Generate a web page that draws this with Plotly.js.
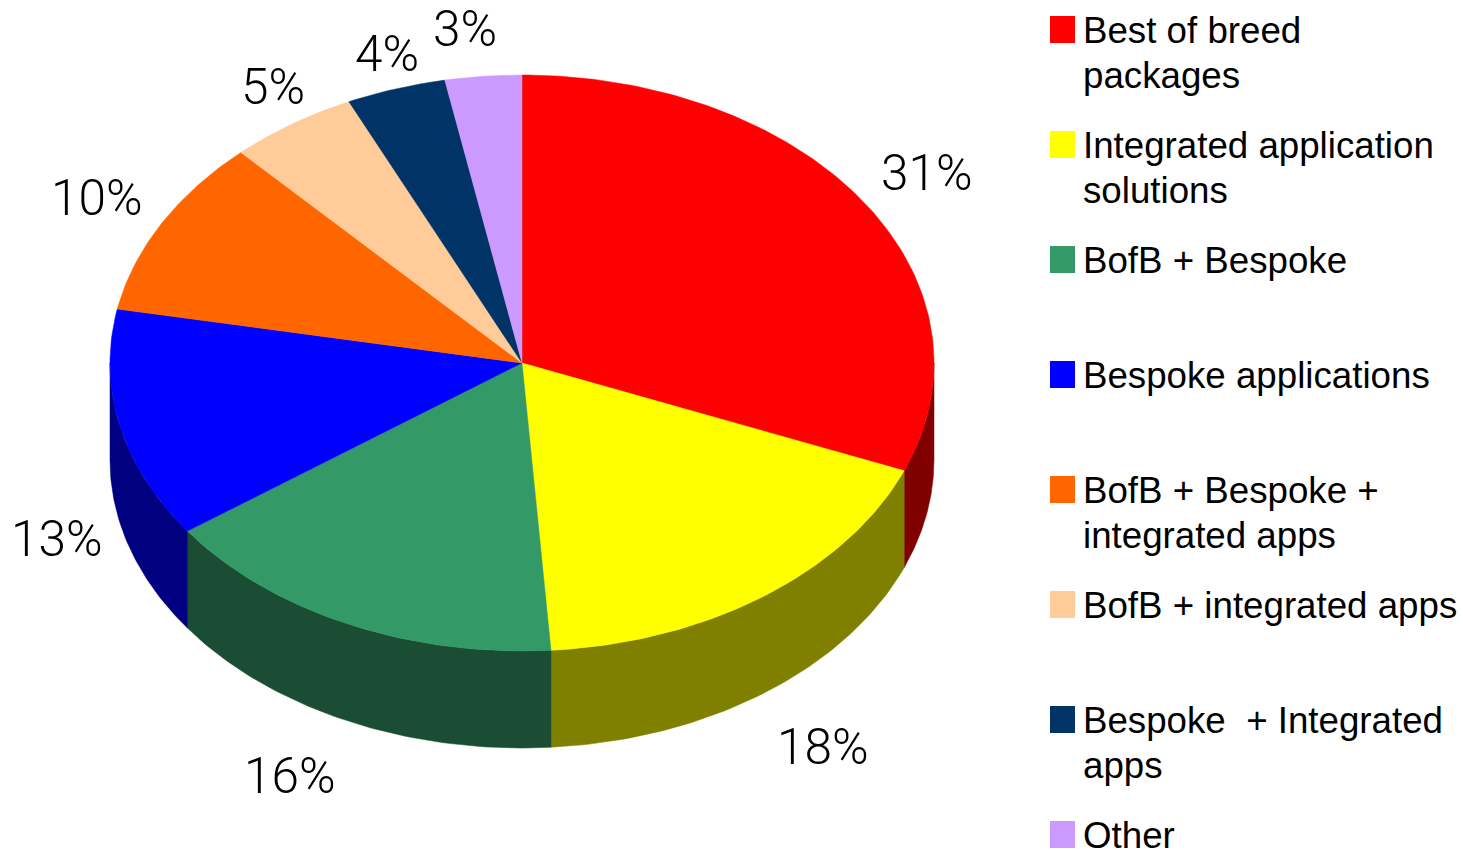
<!DOCTYPE html>
<html>
<head>
<meta charset="utf-8">
<script src="https://cdn.plot.ly/plotly-3.0.1.min.js"></script>
<style>html,body{margin:0;padding:0;background:#fff;overflow:hidden}#chart{width:1463px;height:851px}</style>
</head>
<body>
<div id="chart"></div>
<script>
// Data
var categories = ["Best of breed<br>packages", "Integrated application<br>solutions", "BofB + Bespoke", "Bespoke applications", "BofB + Bespoke +<br>integrated apps", "BofB + integrated apps", "Bespoke  + Integrated<br>apps", "Other"];
var values = [31.1, 17.78, 16.2, 12.92, 10.05, 5.05, 3.9, 3.0];
var topColors = ["#FF0000", "#FFFF00", "#339966", "#0000FF", "#FF6600", "#FFCC99", "#003366", "#CC99FF"];
var sideColors = ["#800000", "#808000", "#1A4D33", "#000080", "#803300", "#806633", "#001A33", "#664D80"];

// Layout geometry of the drawing
var cx = 522, cy = 363, rx = 412, ry = 288, depth = 97;
var labelX = [927, 823, 290, 57, 97, 273, 387, 465];
var labelY = [173, 747, 776, 539, 198, 87, 54, 29];
var legendTop = 16, legendStep = 115, legendLine = 45;

var total = values.reduce(function (a, b) { return a + b; }, 0);
function px(a) { return cx + rx * Math.sin(a); }
function py(a, d) { return cy - ry * Math.cos(a) + (d || 0); }

var walls = [], tops = [];
var acc = 0;
values.forEach(function (v, i) {
  var a0 = acc / total * 2 * Math.PI;
  acc += v;
  var a1 = acc / total * 2 * Math.PI;
  var n = Math.max(8, Math.round(v * 4));
  var x = [cx], y = [cy];
  for (var k = 0; k <= n; k++) {
    var a = a0 + (a1 - a0) * k / n;
    x.push(px(a)); y.push(py(a));
  }
  x.push(cx); y.push(cy);
  tops.push({ x: x, y: y, mode: "lines", fill: "toself", fillcolor: topColors[i], line: { color: topColors[i], width: 0.5 }, hoverinfo: "skip", showlegend: false });

  // Visible outer wall: the part of the rim on the near side
  var s0 = Math.max(a0, Math.PI / 2), s1 = Math.min(a1, 3 * Math.PI / 2);
  if (s1 > s0) {
    var wx = [], wy = [], rimx = [], rimy = [];
    for (var j = 0; j <= n; j++) {
      var b = s0 + (s1 - s0) * j / n;
      wx.push(px(b)); wy.push(py(b));
      rimx.unshift(px(b)); rimy.unshift(py(b, depth));
    }
    walls.push({ x: wx.concat(rimx, [wx[0]]), y: wy.concat(rimy, [wy[0]]), mode: "lines", fill: "toself", fillcolor: sideColors[i], line: { color: sideColors[i], width: 0.5 }, hoverinfo: "skip", showlegend: false });
  }
});
var traces = walls.concat(tops);

var shapes = [], annotations = [];
categories.forEach(function (name, i) {
  var top = legendTop + legendStep * i;
  shapes.push({ type: "rect", xref: "x", yref: "y", x0: 1050, x1: 1075, y0: top, y1: top + 27, fillcolor: topColors[i], line: { width: 0 } });
  name.split("<br>").forEach(function (t, l) {
    annotations.push({ xref: "x", yref: "y", x: 1081, y: top + 14 + l * legendLine, text: t.replace(/  /g, " \u00A0"), showarrow: false, xanchor: "left", yanchor: "middle", font: { family: "Liberation Sans", size: 36.7, color: "#000" } });
  });
});
values.forEach(function (v, i) {
  annotations.push({ xref: "x", yref: "y", x: labelX[i], y: labelY[i], text: Math.round(v) + "%", showarrow: false, xanchor: "center", yanchor: "middle", font: { family: "Roboto", size: 49.5, weight: 300, color: "#000" } });
});

Plotly.newPlot("chart", traces, {
  width: 1463, height: 851,
  margin: { l: 0, r: 0, t: 0, b: 0 },
  paper_bgcolor: "#fff", plot_bgcolor: "#fff",
  showlegend: false,
  xaxis: { range: [0, 1463], visible: false, fixedrange: true },
  yaxis: { range: [851, 0], visible: false, fixedrange: true },
  shapes: shapes,
  annotations: annotations
}, { displayModeBar: false, staticPlot: true });
</script>
</body>
</html>
